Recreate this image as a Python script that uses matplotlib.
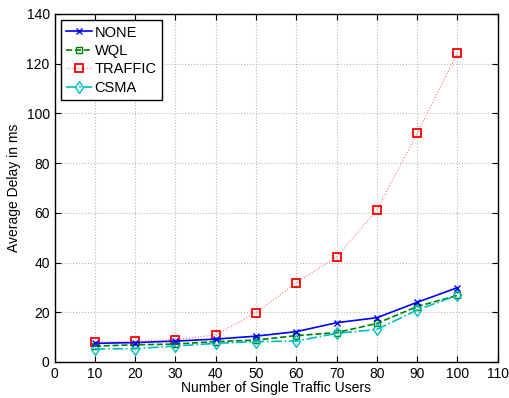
import matplotlib
matplotlib.use("Agg")
import matplotlib.pyplot as plt

users = [10, 20, 30, 40, 50, 60, 70, 80, 90, 100]
none_delay = [7.5, 7.8, 8.4, 9.2, 10.4, 12.2, 15.8, 17.8, 24.0, 29.9]
wql_delay = [6.4, 6.9, 7.2, 8.2, 8.8, 10.6, 11.8, 15.5, 22.3, 26.8]
traffic_delay = [8.0, 8.4, 9.0, 10.9, 19.8, 31.9, 42.2, 61.1, 92.1, 124.3]
csma_delay = [5.2, 5.4, 6.4, 7.5, 8.2, 8.4, 11.5, 13.1, 20.9, 26.8]

plt.rcParams['font.family'] = ['Liberation Sans', 'DejaVu Sans']

fig = plt.figure(figsize=(5.1, 3.98), dpi=100)
ax = fig.add_axes([0.107, 0.0905, 0.869, 0.8745])

ax.plot(users, none_delay, color=(0, 0, 1), linestyle='-', marker='x',
        markersize=5, linewidth=1.2, label='NONE', zorder=4)
ax.plot(users, wql_delay, color=(0, 0.5, 0), linestyle='--', marker='s',
        markersize=5, markerfacecolor='none', linewidth=1.2, label='WQL', zorder=3)
ax.plot(users, traffic_delay, color=(1, 0.45, 0.45), linestyle=':', marker='s',
        markersize=6, markerfacecolor='none', markeredgecolor=(1, 0, 0),
        markeredgewidth=1.3, linewidth=0.8, label='TRAFFIC', zorder=2)
ax.plot(users, csma_delay, color=(0, 0.75, 0.75), linestyle='-.', marker='d',
        markersize=6.5, markerfacecolor='none', linewidth=1.2, label='CSMA', zorder=3)

ax.set_xlim(0, 110)
ax.set_ylim(0, 140)
ax.set_xticks(range(0, 111, 10))
ax.set_yticks(range(0, 141, 20))
ax.tick_params(direction='in', top=True, right=True, labelsize=10, length=4)
ax.grid(True, linestyle=':', color='#b8b8b8', linewidth=0.8)
for s in ax.spines.values():
    s.set_linewidth(1.0)
ax.set_xlabel('Number of Single Traffic Users', fontsize=10, labelpad=0)
ax.set_ylabel('Average Delay in ms', fontsize=10, labelpad=4)

leg = ax.legend(loc='upper left', fontsize=10.5, fancybox=False, framealpha=1,
                edgecolor='black', borderpad=0.35, labelspacing=0.3,
                handlelength=1.8, handletextpad=0.15, borderaxespad=0.45)
leg.get_frame().set_linewidth(1.0)

fig.savefig('out.png', dpi=100)
